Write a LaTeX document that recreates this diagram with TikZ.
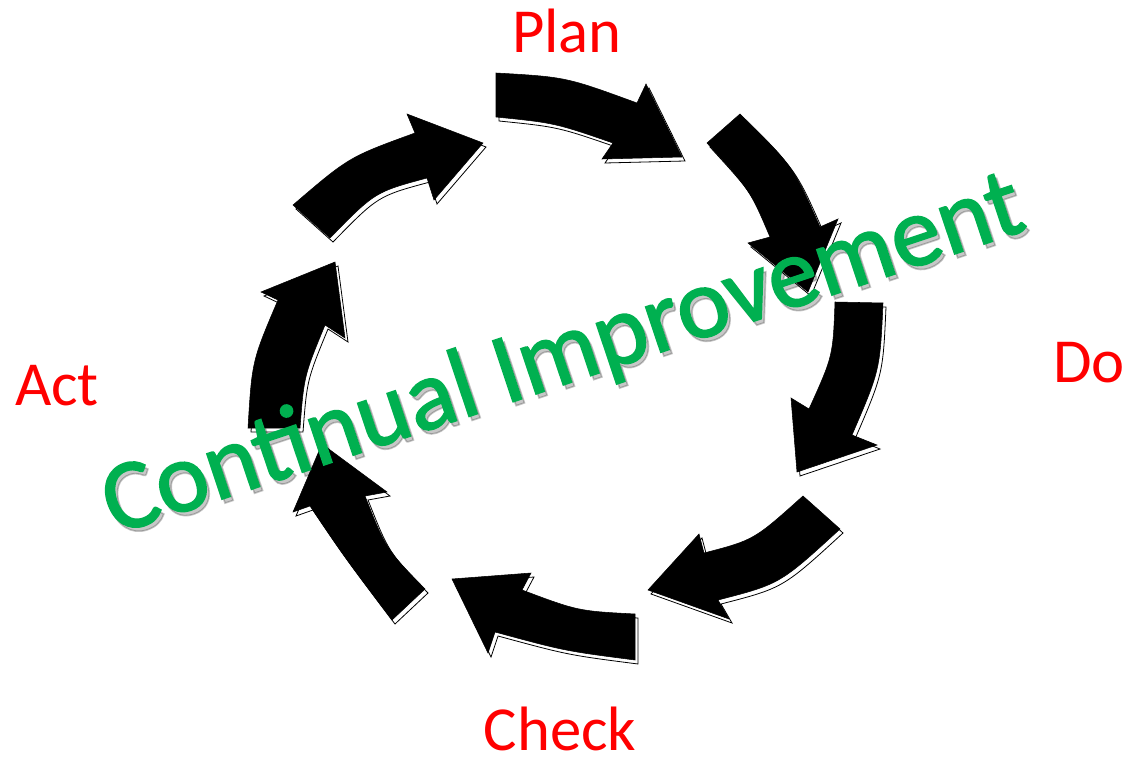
\documentclass[tikz,border=0pt]{standalone}
\usepackage{fontspec}
\setmainfont{Carlito}
\newfontfamily\cifont[FakeBold=1.6]{Carlito}
\definecolor{lblred}{RGB}{255,0,0}
\definecolor{cigreen}{RGB}{0,176,80}
\newcommand\cyclearrow[1]{\path[arrowshadow] #1; \path[arrowbody] #1;}
\begin{document}
\begin{tikzpicture}[x=0.75pt,y=-0.75pt,
  arrowshadow/.style={fill=white,draw=black,line width=0.6pt,line join=miter,shift={(3,4)}},
  arrowbody/.style={fill=black,draw=black,line width=0.4pt,line join=miter},
  lbl/.style={text=lblred,font=\fontsize{47}{52}\selectfont,inner sep=0pt,anchor=base},
  citext/.style={font=\cifont\fontsize{75}{80}\selectfont,inner sep=0pt,anchor=base,rotate=18.5}]
\fill[white] (0,0) rectangle (1128,759);
\useasboundingbox (0,0) rectangle (1128,759);
% arrow 1 (top)
\cyclearrow{(496,73) .. controls (566,77) .. (637,103) -- (646,84) -- (682,157) -- (602,159) -- (613,143) .. controls (555,123) .. (496,117) -- cycle}
% arrow 2 (upper right)
\cyclearrow{(740,114) .. controls (793,166) .. (820,227) -- (838,219) -- (808,292) -- (748,243) -- (770,237) .. controls (750,190) .. (707,143) -- cycle}
% arrow 3 (right)
\cyclearrow{(883,303) .. controls (880,370) .. (852,435) -- (877,445) -- (797,472) -- (791,398) -- (809,409) .. controls (833,356) .. (835,302) -- cycle}
% arrow 4 (lower right)
\cyclearrow{(840,529) .. controls (780,584) .. (718,600) -- (729,619) -- (648,590) -- (699,534) -- (704,553) .. controls (754,540) .. (803,496) -- cycle}
% arrow 5 (bottom)
\cyclearrow{(635,660) .. controls (565,651) .. (495,632) -- (488,653) -- (452,579) -- (531,573) -- (522,590) .. controls (578,611) .. (635,614) -- cycle}
% arrow 6 (lower left)
\cyclearrow{(392,620) .. controls (343,555) .. (310,506) -- (293,512) -- (322,444) -- (387,492) -- (365,496) .. controls (386,549) .. (425,589) -- cycle}
% arrow 7 (left)
\cyclearrow{(248,428) .. controls (252,361) .. (278,300) -- (261,292) -- (335,262) -- (345,338) -- (325,325) .. controls (304,376) .. (300,428) -- cycle}
% arrow 8 (upper left)
\cyclearrow{(293,205) .. controls (349,157) .. (415,133) -- (407,114) -- (483,143) -- (434,200) -- (427,178) .. controls (375,192) .. (330,238) -- cycle}
% labels
\node[lbl] (plan) at (567,53) {Plan};
\node[lbl] (do) at (1089,382) {Do};
\node[lbl] (act) at (57,405) {Act};
\node[lbl] (check) at (560,750) {Check};
% central text with soft shadow
\node[citext,text=black,opacity=0.22] (cishadow) at (575,386) {Continual Improvement};
\node[citext,text=cigreen] (ci) at (572,382) {Continual Improvement};
\end{tikzpicture}
\end{document}
